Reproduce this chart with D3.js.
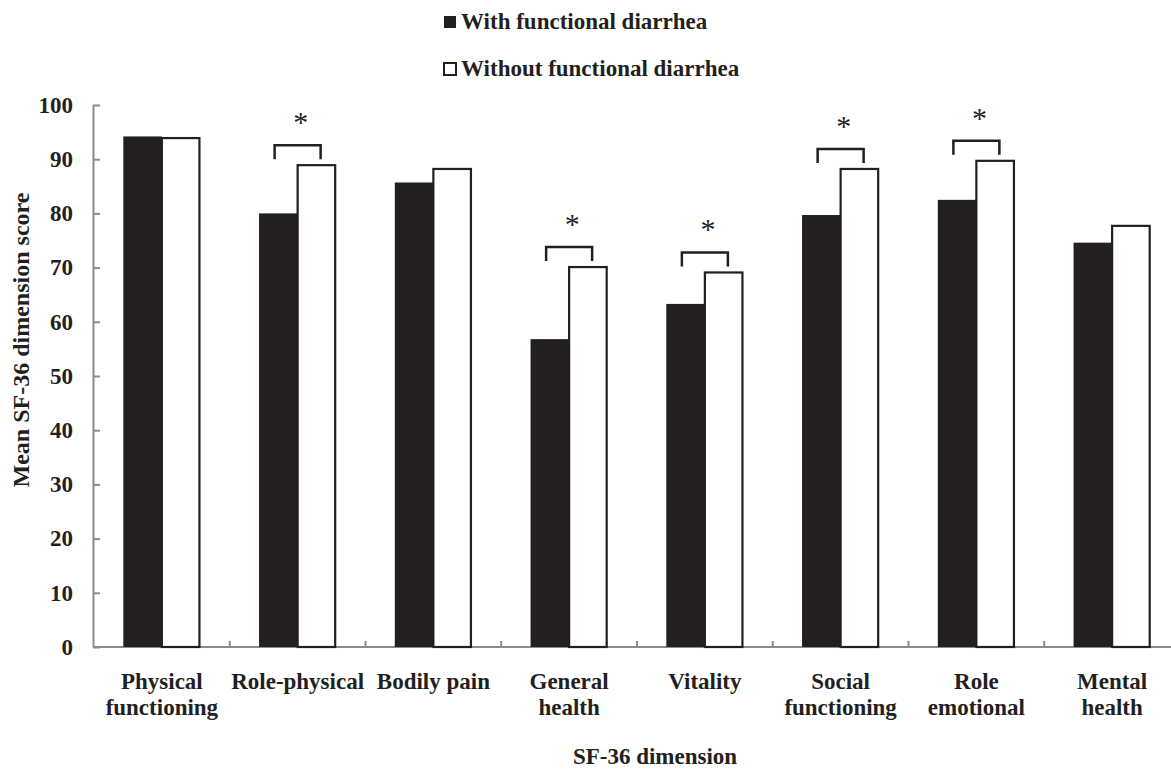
<!DOCTYPE html>
<html>
<head>
<meta charset="utf-8">
<script src="https://cdn.jsdelivr.net/npm/d3@7"></script>
<style>
  body { margin: 0; background: #fff; }
  text { font-family: "Liberation Serif", "Times New Roman", serif; fill: #231f20; }
  .axis path, .axis line { stroke: #8c8c8c; stroke-width: 2; }
</style>
</head>
<body>
<script>
const width = 1171,
  height = 770;

// SF-36 dimensions (line breaks as in the figure)
const categories = [
  "Physical\nfunctioning",
  "Role-physical",
  "Bodily pain",
  "General\nhealth",
  "Vitality",
  "Social\nfunctioning",
  "Role\nemotional",
  "Mental\nhealth"
];
const withDiarrhea = [94.2, 80.0, 85.7, 56.8, 63.3, 79.7, 82.5, 74.6];
const withoutDiarrhea = [93.9, 88.9, 88.2, 70.1, 69.1, 88.2, 89.7, 77.7];
// significant difference markers
const significant = [false, true, false, true, true, true, true, false];
const yTicks = [0, 10, 20, 30, 40, 50, 60, 70, 80, 90, 100];
const seriesNames = ["With functional diarrhea", "Without functional diarrhea"];

const svg = d3
  .select("body")
  .append("svg")
  .attr("width", width)
  .attr("height", height);

const x = d3.scaleBand().domain(categories).range([94, 1180]);
const xSub = d3
  .scaleBand()
  .domain(["with", "without"])
  .range([0, x.bandwidth()])
  .paddingOuter(0.76);
const y = d3.scaleLinear().domain([0, 100]).range([647, 105]);

const rows = categories.map((c, i) => ({
  cat: c,
  with: withDiarrhea[i],
  without: withoutDiarrhea[i],
  sig: significant[i]
}));

// y axis, ticks point inward
svg
  .append("g")
  .attr("class", "axis")
  .attr("transform", "translate(93,0)")
  .call(
    d3.axisLeft(y).tickValues(yTicks).tickSizeInner(-7).tickSizeOuter(0).tickPadding(20)
  )
  .call((g) =>
    g.selectAll("text").attr("font-size", 23).attr("font-weight", "bold").attr("font-family", null)
  );

// x axis line with small upward ticks at the category boundaries
const xAxis = svg.append("g").attr("class", "axis");
xAxis
  .append("line")
  .attr("x1", 93)
  .attr("x2", 1180)
  .attr("y1", y(0))
  .attr("y2", y(0));
xAxis
  .selectAll(".bt")
  .data(categories.slice(1).concat([null]))
  .join("line")
  .attr("x1", (d, i) => x(categories[0]) + x.step() * (i + 1))
  .attr("x2", (d, i) => x(categories[0]) + x.step() * (i + 1))
  .attr("y1", y(0))
  .attr("y2", y(0) - 6);

// bars
const groups = svg
  .selectAll(".grp")
  .data(rows)
  .join("g")
  .attr("transform", (d) => `translate(${x(d.cat)},0)`);

groups
  .append("rect")
  .attr("x", xSub("with"))
  .attr("width", xSub.bandwidth())
  .attr("y", (d) => y(d.with))
  .attr("height", (d) => y(0) - y(d.with))
  .attr("fill", "#231f20");

groups
  .append("rect")
  .attr("x", xSub("without"))
  .attr("width", xSub.bandwidth() - 1)
  .attr("y", (d) => y(d.without))
  .attr("height", (d) => y(0) - y(d.without))
  .attr("fill", "#fff")
  .attr("stroke", "#231f20")
  .attr("stroke-width", 2.2);

// significance brackets and asterisks
const sig = groups.filter((d) => d.sig);
const cx = x.bandwidth() / 2;
sig
  .append("path")
  .attr("d", (d) => {
    const top = y(d.without) - 20;
    return `M${cx - 23},${top + 14}V${top}H${cx + 23}V${top + 14}`;
  })
  .attr("fill", "none")
  .attr("stroke", "#231f20")
  .attr("stroke-width", 2.5);
sig
  .append("text")
  .attr("x", cx + 3)
  .attr("y", (d) => y(d.without) - 51)
  .attr("dy", "0.6em")
  .attr("text-anchor", "middle")
  .attr("font-size", 30)
  .attr("fill", "#3a3a3a")
  .text("*");

// category labels
const labels = svg
  .selectAll(".cat")
  .data(categories)
  .join("text")
  .attr("text-anchor", "middle")
  .attr("font-size", 23)
  .attr("font-weight", "bold")
  .attr("x", (d) => x(d) + x.bandwidth() / 2)
  .attr("y", 689);
labels
  .selectAll("tspan")
  .data((d) => d.split("\n"))
  .join("tspan")
  .attr("x", function () {
    return this.parentNode.getAttribute("x");
  })
  .attr("dy", (d, i) => (i === 0 ? 0 : 26))
  .text((d) => d);

// axis titles
svg
  .append("text")
  .attr("x", 655)
  .attr("y", 764)
  .attr("text-anchor", "middle")
  .attr("font-size", 23)
  .attr("font-weight", "bold")
  .text("SF-36 dimension");

svg
  .append("text")
  .attr("transform", "translate(29,340) rotate(-90)")
  .attr("text-anchor", "middle")
  .attr("font-size", 24)
  .attr("font-weight", "bold")
  .text("Mean SF-36 dimension score");

// legend
const legend = svg
  .selectAll(".leg")
  .data(seriesNames)
  .join("g")
  .attr("transform", (d, i) => `translate(443,${i * 47})`);
legend
  .append("rect")
  .attr("x", 1)
  .attr("y", 16)
  .attr("width", 12)
  .attr("height", 12)
  .attr("fill", (d, i) => (i === 0 ? "#231f20" : "#fff"))
  .attr("stroke", "#231f20")
  .attr("stroke-width", (d, i) => (i === 0 ? 0 : 2));
legend
  .append("text")
  .attr("x", 18)
  .attr("y", 29)
  .attr("font-size", 23)
  .attr("font-weight", "bold")
  .text((d) => d);
</script>
</body>
</html>
